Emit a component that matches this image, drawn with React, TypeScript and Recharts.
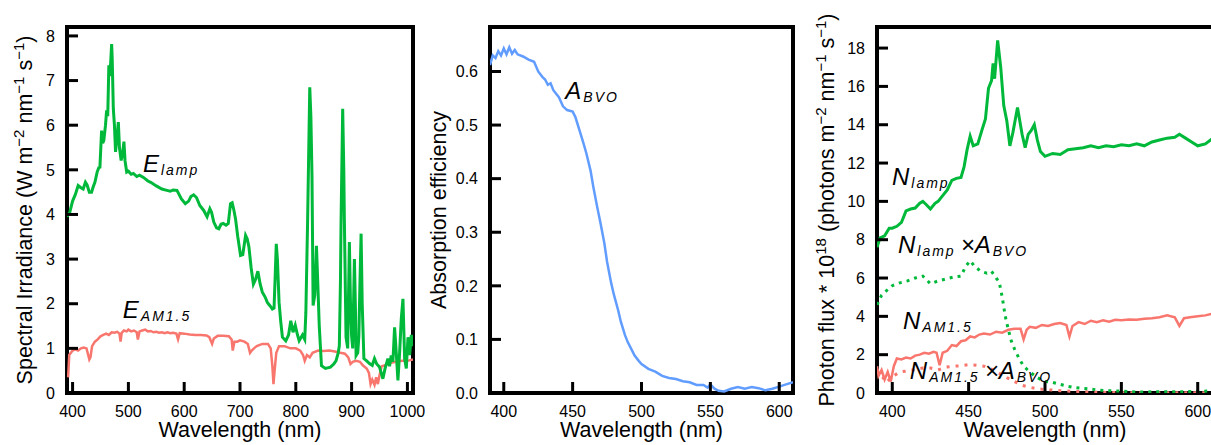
import { LineChart, Line, XAxis, YAxis, ReferenceDot, ReferenceArea, ReferenceLine } from 'recharts';

const GREEN = '#00B93A';
const RED = '#F8766D';
const BLUE = '#619CFF';

// panel 1: spectral irradiance
const lampWl = [390, 395, 400, 405, 410, 415, 419, 423, 426, 430, 434, 437, 440, 444, 447, 449, 452, 454, 456, 459, 461, 463, 465, 467, 470, 471, 473, 475, 477, 480, 482, 484, 487, 490, 492, 494, 497, 500, 505, 509, 515, 520, 527, 535, 540, 550, 560, 569, 575, 580, 587, 595, 602, 608, 612, 617, 622, 628, 635, 641, 646, 649, 653, 658, 662, 666, 670, 675, 679, 683, 686, 689, 692, 696, 701, 705, 710, 713, 716, 720, 724, 728, 732, 736, 740, 745, 749, 754, 758, 761, 763, 765, 767, 770, 773, 776, 782, 787, 791, 795, 799, 803, 806, 812, 816, 818, 821, 825, 827, 829, 831, 834, 837, 839, 842, 846, 853, 862, 868, 872, 876, 878, 880, 881, 884, 886, 887, 890, 893, 896, 898, 900, 902, 905, 907, 908, 911, 913, 915, 917, 919, 922, 927, 932, 937, 941, 945, 950, 953, 956, 960, 965, 968, 971, 974, 977, 980, 983, 986, 989, 992, 995, 998, 1001, 1004, 1007, 1010];
const lampE = [3.95, 4.05, 4.3, 4.45, 4.65, 4.6, 4.57, 4.72, 4.66, 4.5, 4.5, 4.62, 4.72, 4.95, 5.05, 5.06, 5.88, 5.6, 5.66, 6.0, 6.33, 6.2, 7.34, 7.1, 7.82, 7.5, 6.37, 6.0, 5.4, 5.8, 6.07, 5.5, 5.21, 5.4, 5.63, 5.2, 4.95, 4.97, 4.9, 4.92, 4.85, 4.88, 4.83, 4.75, 4.72, 4.64, 4.57, 4.54, 4.52, 4.55, 4.54, 4.35, 4.24, 4.3, 4.4, 4.44, 4.38, 4.2, 4.09, 3.95, 4.13, 4.05, 3.83, 3.7, 3.68, 3.78, 3.8, 3.76, 3.8, 4.24, 4.26, 4.1, 3.9, 3.5, 3.08, 3.1, 3.53, 3.45, 3.27, 2.8, 2.44, 2.55, 2.73, 2.45, 2.26, 2.15, 2.03, 1.95, 1.88, 1.9, 2.6, 3.34, 3.0, 2.03, 1.6, 1.25, 1.17, 1.3, 1.62, 1.36, 1.52, 1.3, 1.17, 1.3, 1.2, 1.8, 3.75, 6.85, 6.2, 4.87, 1.96, 2.2, 3.3, 2.6, 1.51, 0.61, 0.55, 0.58, 0.65, 0.72, 0.9, 1.06, 2.5, 3.75, 6.37, 5.0, 3.9, 1.25, 1.0, 3.38, 2.0, 1.28, 1.0, 3.0, 1.8, 0.84, 0.9, 1.28, 2.5, 3.57, 2.0, 0.77, 0.72, 0.66, 0.62, 0.77, 0.65, 0.58, 0.45, 0.32, 0.55, 0.77, 0.6, 0.84, 0.7, 1.47, 0.9, 0.28, 0.9, 1.66, 2.11, 0.77, 0.55, 1.25, 0.85, 1.3, 1.05];

const amWl = [392, 394, 397, 400, 405, 410, 415, 420, 425, 430, 432, 435, 440, 445, 450, 455, 460, 465, 470, 475, 480, 484, 486, 488, 492, 497, 500, 505, 510, 515, 517, 520, 525, 530, 535, 540, 545, 550, 555, 560, 565, 570, 575, 580, 586, 589, 592, 600, 610, 620, 630, 640, 645, 650, 653, 660, 670, 680, 685, 687, 690, 695, 700, 708, 714, 718, 721, 725, 730, 740, 750, 755, 758, 760, 762, 765, 770, 780, 790, 800, 808, 813, 816, 820, 825, 830, 840, 850, 860, 870, 880, 888, 894, 898, 902, 908, 915, 920, 927, 931, 934, 937, 941, 944, 947, 950, 954, 960, 970, 980, 990, 1000, 1010];
const amE = [0.35, 0.85, 0.9, 0.95, 0.98, 0.95, 1.0, 1.02, 1.0, 0.75, 0.8, 1.05, 1.15, 1.2, 1.27, 1.3, 1.33, 1.3, 1.36, 1.35, 1.37, 1.33, 1.15, 1.35, 1.4, 1.38, 1.42, 1.38, 1.4, 1.36, 1.2, 1.38, 1.4, 1.42, 1.38, 1.39, 1.36, 1.37, 1.35, 1.36, 1.34, 1.36, 1.34, 1.35, 1.33, 1.2, 1.34, 1.33, 1.31, 1.3, 1.3, 1.29, 1.25, 1.1, 1.22, 1.28, 1.28, 1.27, 1.2, 0.95, 1.15, 1.15, 1.18, 1.15, 1.1, 0.9, 0.95, 1.0, 1.05, 1.1, 1.1, 1.0, 0.6, 0.2, 0.5, 0.9, 1.05, 1.05, 1.0, 1.0, 0.95, 0.85, 0.72, 0.85, 0.8, 0.9, 0.95, 0.94, 0.95, 0.93, 0.9, 0.88, 0.8, 0.65, 0.7, 0.72, 0.7, 0.62, 0.55, 0.45, 0.2, 0.3, 0.18, 0.35, 0.2, 0.4, 0.6, 0.62, 0.68, 0.7, 0.72, 0.72, 0.75];

// panel 2: absorption efficiency
const bvoWl = [390, 392, 394, 396, 398, 400, 402, 404, 406, 408, 410, 414, 418, 422, 425, 428, 430, 432, 434, 436, 440, 443, 446, 450, 452, 455, 458, 460, 463, 465, 468, 470, 473, 475, 478, 480, 483, 485, 488, 490, 493, 495, 498, 500, 505, 510, 515, 520, 525, 530, 535, 540, 545, 548, 550, 553, 556, 560, 565, 570, 575, 580, 585, 590, 595, 600, 605, 610];
const bvoA = [0.612, 0.63, 0.625, 0.638, 0.63, 0.643, 0.632, 0.645, 0.633, 0.64, 0.632, 0.628, 0.622, 0.618, 0.6, 0.59, 0.585, 0.575, 0.578, 0.565, 0.552, 0.535, 0.528, 0.525, 0.515, 0.49, 0.465, 0.447, 0.415, 0.385, 0.345, 0.32, 0.28, 0.245, 0.205, 0.183, 0.155, 0.133, 0.108, 0.095, 0.08, 0.07, 0.06, 0.054, 0.045, 0.04, 0.032, 0.028, 0.026, 0.022, 0.02, 0.015, 0.015, 0.01, 0.016, 0.008, 0.004, 0.003, 0.008, 0.011, 0.008, 0.011, 0.009, 0.005, 0.008, 0.012, 0.016, 0.02];

// panel 3: photon flux
const nLampWl = [390, 392, 395, 398, 400, 403, 406, 409, 412, 415, 418, 420, 422, 425, 428, 430, 433, 436, 439, 442, 445, 447, 449, 451, 453, 456, 459, 461, 463, 465, 466, 467, 469, 471, 473, 475, 477, 479, 482, 485, 487, 489, 491, 493, 495, 497, 500, 505, 510, 515, 520, 525, 530, 535, 540, 545, 550, 555, 560, 565, 570, 575, 580, 585, 588, 592, 596, 600, 605, 610];
const nLamp = [7.6, 8.1, 8.2, 8.6, 8.6, 8.7, 8.9, 9.5, 9.6, 9.65, 9.9, 10.0, 9.85, 9.6, 9.9, 10.0, 10.3, 10.6, 11.1, 11.2, 11.25, 11.8, 12.7, 13.4, 12.9, 13.0, 13.8, 14.3, 15.9, 16.3, 17.2, 16.4, 18.4, 17.0, 15.0, 14.2, 12.9, 13.6, 14.9, 13.5, 12.8, 13.5, 13.7, 14.0, 13.2, 12.6, 12.35, 12.5, 12.45, 12.7, 12.75, 12.8, 12.9, 12.8, 12.9, 12.85, 12.95, 12.9, 13.0, 12.9, 13.1, 13.2, 13.3, 13.35, 13.5, 13.3, 13.1, 12.9, 13.0, 13.3];

const nLampAWl = [390, 393, 397, 400, 405, 410, 415, 420, 425, 430, 435, 440, 445, 448, 451, 454, 458, 462, 465, 468, 470, 472, 474, 476, 478, 480, 483, 486, 490, 495, 500, 505, 510, 515, 520, 530, 540, 550, 560, 570, 580, 590, 600, 610];
const nLampA = [4.6, 5.1, 5.4, 5.6, 5.75, 5.85, 6.0, 6.1, 5.7, 5.85, 5.95, 6.05, 6.1, 6.6, 6.9, 6.6, 6.35, 6.25, 6.35, 6.0, 5.8, 5.0, 4.0, 3.3, 2.7, 2.3, 1.8, 1.4, 1.1, 0.8, 0.6, 0.55, 0.45, 0.35, 0.28, 0.2, 0.12, 0.1, 0.05, 0.06, 0.06, 0.07, 0.08, 0.12];

const nAmWl = [390, 391, 393, 395, 397, 399, 401, 403, 406, 409, 412, 415, 418, 421, 424, 427, 429, 431, 433, 436, 439, 442, 445, 448, 451, 454, 457, 460, 464, 468, 472, 476, 480, 484, 486, 488, 490, 494, 498, 502, 506, 510, 514, 516, 518, 522, 526, 530, 534, 538, 542, 546, 550, 555, 560, 565, 570, 575, 580, 585, 588, 591, 595, 600, 605, 610];
const nAm = [1.4, 0.9, 1.2, 0.7, 1.1, 0.6, 1.4, 1.8, 1.75, 1.85, 1.8, 1.95, 2.0, 2.1, 2.05, 2.15, 2.1, 1.45, 2.1, 2.2, 2.5, 2.45, 2.7, 2.75, 2.95, 2.9, 3.05, 3.1, 3.05, 3.2, 3.15, 3.3, 3.35, 3.35, 2.8, 3.3, 3.45, 3.4, 3.55, 3.5, 3.6, 3.65, 3.55, 2.95, 3.5, 3.7, 3.6, 3.77, 3.7, 3.8, 3.72, 3.82, 3.8, 3.84, 3.82, 3.88, 3.9, 3.95, 4.05, 3.95, 3.5, 3.9, 3.95, 4.0, 4.05, 4.15];

const nAmAWl = [390, 392, 394, 396, 398, 400, 405, 410, 415, 420, 425, 430, 435, 440, 445, 450, 455, 460, 465, 470, 475, 480, 485, 490, 495, 500, 510, 520, 530, 540, 550, 560, 580, 600, 610];
const nAmA = [1.2, 0.9, 0.8, 0.55, 0.7, 0.85, 1.1, 1.15, 1.22, 1.3, 1.3, 1.2, 1.35, 1.4, 1.42, 1.48, 1.45, 1.4, 1.25, 1.03, 0.8, 0.6, 0.4, 0.3, 0.22, 0.18, 0.12, 0.08, 0.05, 0.03, 0.02, 0.01, 0.01, 0.01, 0.01];

const ticks1X = [400, 500, 600, 700, 800, 900, 1000];
const ticks1Y = [0, 1, 2, 3, 4, 5, 6, 7, 8];
const ticks2X = [400, 450, 500, 550, 600];
const ticks2Y = [0, 0.1, 0.2, 0.3, 0.4, 0.5, 0.6];
const ticks3Y = [0, 2, 4, 6, 8, 10, 12, 14, 16, 18];

const zip = (xs: number[], ys: number[]) => xs.map((x, i) => ({ x, y: ys[i] }));

const FS = 21.5;
const INK = '#000';
const PLOT_H = 366;
const TICK_PX = 11;

function bottomTick(props: any) {
  const { x, y, payload } = props;
  return <text x={x} y={y + 22} textAnchor="middle" fontSize={16} fill={INK}>{payload.value}</text>;
}

function leftTick(fmt?: (v: number) => string) {
  return (props: any) => {
    const { x, y, payload } = props;
    return (
      <text x={x - 10} y={y + 5.7} textAnchor="end" fontSize={16} fill={INK}>
        {fmt ? fmt(payload.value) : payload.value}
      </text>
    );
  };
}

// inward tick marks, drawn as short reference segments
function tickMarks(xd: [number, number], yd: [number, number], xt: number[], yt: number[], plotW: number) {
  const dy = ((yd[1] - yd[0]) * TICK_PX) / PLOT_H;
  const dx = ((xd[1] - xd[0]) * TICK_PX) / plotW;
  return [
    ...xt.map((t) => (
      <ReferenceLine key={`x${t}`} isFront segment={[{ x: t, y: yd[0] }, { x: t, y: yd[0] + dy }]} stroke={INK} strokeWidth={3} ifOverflow="visible" />
    )),
    ...yt.map((t) => (
      <ReferenceLine key={`y${t}`} isFront segment={[{ x: xd[0], y: t }, { x: xd[0] + dx, y: t }]} stroke={INK} strokeWidth={3} ifOverflow="visible" />
    )),
  ];
}

type Seg = { t: string; sup?: boolean };

function yLabel(segs: Seg[], base: number) {
  return (props: any) => {
    const vb = props.viewBox;
    const cy = vb.y + vb.height / 2;
    let prev = false;
    return (
      <text transform={`rotate(-90 ${base} ${cy})`} x={base} y={cy} textAnchor="middle" fontSize={FS} fill={INK}>
        {segs.map((s, i) => {
          const dy = s.sup && !prev ? -8 : !s.sup && prev ? 8 : 0;
          prev = !!s.sup;
          return (
            <tspan key={i} dy={dy} fontSize={s.sup ? 15 : FS}>{s.t}</tspan>
          );
        })}
      </text>
    );
  };
}

const xLabel = (props: any) => {
  const vb = props.viewBox;
  return (
    <text x={vb.x + vb.width / 2} y={vb.y + 44} textAnchor="middle" fontSize={FS} fill={INK}>
      Wavelength (nm)
    </text>
  );
};

// italic annotation: [main, sub, main, sub, ...]
function tag(parts: string[]) {
  return (p: any) => (
    <text x={p.cx} y={p.cy} fontStyle="italic" fontSize={24} fill={INK}>
      {parts.map((t, i) =>
        i % 2 === 0 ? (
          <tspan key={i} fontSize={24} dy={i === 0 ? 0 : -3} dx={i === 0 ? 0 : 5} letterSpacing={0}>{t}</tspan>
        ) : (
          <tspan key={i} fontSize={14} dx={2} dy={3} letterSpacing={2}>{t}</tspan>
        )
      )}
    </text>
  );
}

const X1: [number, number] = [390, 1010];
const Y1: [number, number] = [0, 8.2];
const X2: [number, number] = [390, 610];
const Y2: [number, number] = [0, 0.683];
const Y3: [number, number] = [0, 19.1];

export default function App() {
  return (
    <div style={{ position: 'fixed', left: 0, top: 0, width: 1211, height: 445, overflow: 'hidden', background: '#fff', fontFamily: '"Liberation Sans", Arial, sans-serif' }}>
      <div style={{ position: 'absolute', left: 0, top: 0 }}>
        <LineChart width={428} height={445} margin={{ top: 27, right: 15, bottom: 2, left: 7 }}>
          <XAxis type="number" dataKey="x" domain={X1} allowDataOverflow ticks={ticks1X} interval={0} tickSize={0} tickLine={false} axisLine={false} tick={bottomTick} height={50} label={{ content: xLabel }} />
          <YAxis type="number" domain={Y1} allowDataOverflow ticks={ticks1Y} interval={0} tickSize={0} tickLine={false} axisLine={false} tick={leftTick()} width={60}
            label={{ content: yLabel([{ t: 'Spectral Irradiance (W m' }, { t: '\u22122', sup: true }, { t: ' nm' }, { t: '\u22121', sup: true }, { t: ' s' }, { t: '\u22121', sup: true }, { t: ')' }], 32) }} />
          <ReferenceArea x1={X1[0]} x2={X1[1]} y1={Y1[0]} y2={Y1[1]} fill="none" stroke={INK} strokeWidth={4} ifOverflow="visible" />
          <Line data={zip(amWl, amE)} dataKey="y" type="linear" stroke={RED} strokeWidth={2.5} dot={false} isAnimationActive={false} />
          <Line data={zip(lampWl, lampE)} dataKey="y" type="linear" stroke={GREEN} strokeWidth={3} dot={false} isAnimationActive={false} />
          {tickMarks(X1, Y1, ticks1X, ticks1Y, 346)}
          <ReferenceDot x={526} y={4.96} r={0} shape={tag(['E', 'lamp'])} />
          <ReferenceDot x={490} y={1.67} r={0} shape={tag(['E', 'AM1.5'])} />
        </LineChart>
      </div>

      <div style={{ position: 'absolute', left: 415, top: 0 }}>
        <LineChart width={395} height={445} margin={{ top: 27, right: 17, bottom: 2, left: 25 }}>
          <XAxis type="number" dataKey="x" domain={X2} allowDataOverflow ticks={ticks2X} interval={0} tickSize={0} tickLine={false} axisLine={false} tick={bottomTick} height={50} label={{ content: xLabel }} />
          <YAxis type="number" domain={Y2} allowDataOverflow ticks={ticks2Y} interval={0} tickSize={0} tickLine={false} axisLine={false} tick={leftTick((v) => v.toFixed(1))} width={50}
            label={{ content: yLabel([{ t: 'Absorption efficiency' }], 31) }} />
          <ReferenceArea x1={X2[0]} x2={X2[1]} y1={Y2[0]} y2={Y2[1]} fill="none" stroke={INK} strokeWidth={4} ifOverflow="visible" />
          <Line data={zip(bvoWl, bvoA)} dataKey="y" type="linear" stroke={BLUE} strokeWidth={2.5} dot={false} isAnimationActive={false} />
          {tickMarks(X2, Y2, ticks2X, ticks2Y, 303)}
          <ReferenceDot x={444.7} y={0.548} r={0} shape={tag(['A', 'BVO'])} />
        </LineChart>
      </div>

      <div style={{ position: 'absolute', left: 810, top: 0 }}>
        <LineChart width={420} height={445} margin={{ top: 27, right: 17, bottom: 2, left: 12 }}>
          <XAxis type="number" dataKey="x" domain={X2} allowDataOverflow ticks={ticks2X} interval={0} tickSize={0} tickLine={false} axisLine={false} tick={bottomTick} height={50} label={{ content: xLabel }} />
          <YAxis type="number" domain={Y3} allowDataOverflow ticks={ticks3Y} interval={0} tickSize={0} tickLine={false} axisLine={false} tick={leftTick()} width={55}
            label={{ content: yLabel([{ t: 'Photon flux * 10' }, { t: '18', sup: true }, { t: ' (photons m' }, { t: '\u22122', sup: true }, { t: ' nm' }, { t: '\u22121', sup: true }, { t: ' s' }, { t: '\u22121', sup: true }, { t: ')' }], 24) }} />
          <ReferenceArea x1={X2[0]} x2={X2[1]} y1={Y3[0]} y2={Y3[1]} fill="none" stroke={INK} strokeWidth={4} ifOverflow="visible" />
          <Line data={zip(nLampWl, nLamp)} dataKey="y" type="linear" stroke={GREEN} strokeWidth={3} dot={false} isAnimationActive={false} />
          <Line data={zip(nAmWl, nAm)} dataKey="y" type="linear" stroke={RED} strokeWidth={2.5} dot={false} isAnimationActive={false} />
          <Line data={zip(nAmAWl, nAmA)} dataKey="y" type="linear" stroke={RED} strokeWidth={3} strokeDasharray="3 6" dot={false} isAnimationActive={false} />
          <Line data={zip(nLampAWl, nLampA)} dataKey="y" type="linear" stroke={GREEN} strokeWidth={3} strokeDasharray="3 5" dot={false} isAnimationActive={false} />
          {tickMarks(X2, Y3, ticks2X, ticks3Y, 336)}
          <ReferenceDot x={399.8} y={10.83} r={0} shape={tag(['N', 'lamp'])} />
          <ReferenceDot x={403.7} y={7.3} r={0} shape={tag(['N', 'lamp', '\u00d7A', 'BVO'])} />
          <ReferenceDot x={407} y={3.32} r={0} shape={tag(['N', 'AM1.5'])} />
          <ReferenceDot x={411.5} y={0.73} r={0} shape={tag(['N', 'AM1.5', '\u00d7A', 'BVO'])} />
        </LineChart>
      </div>
    </div>
  );
}
